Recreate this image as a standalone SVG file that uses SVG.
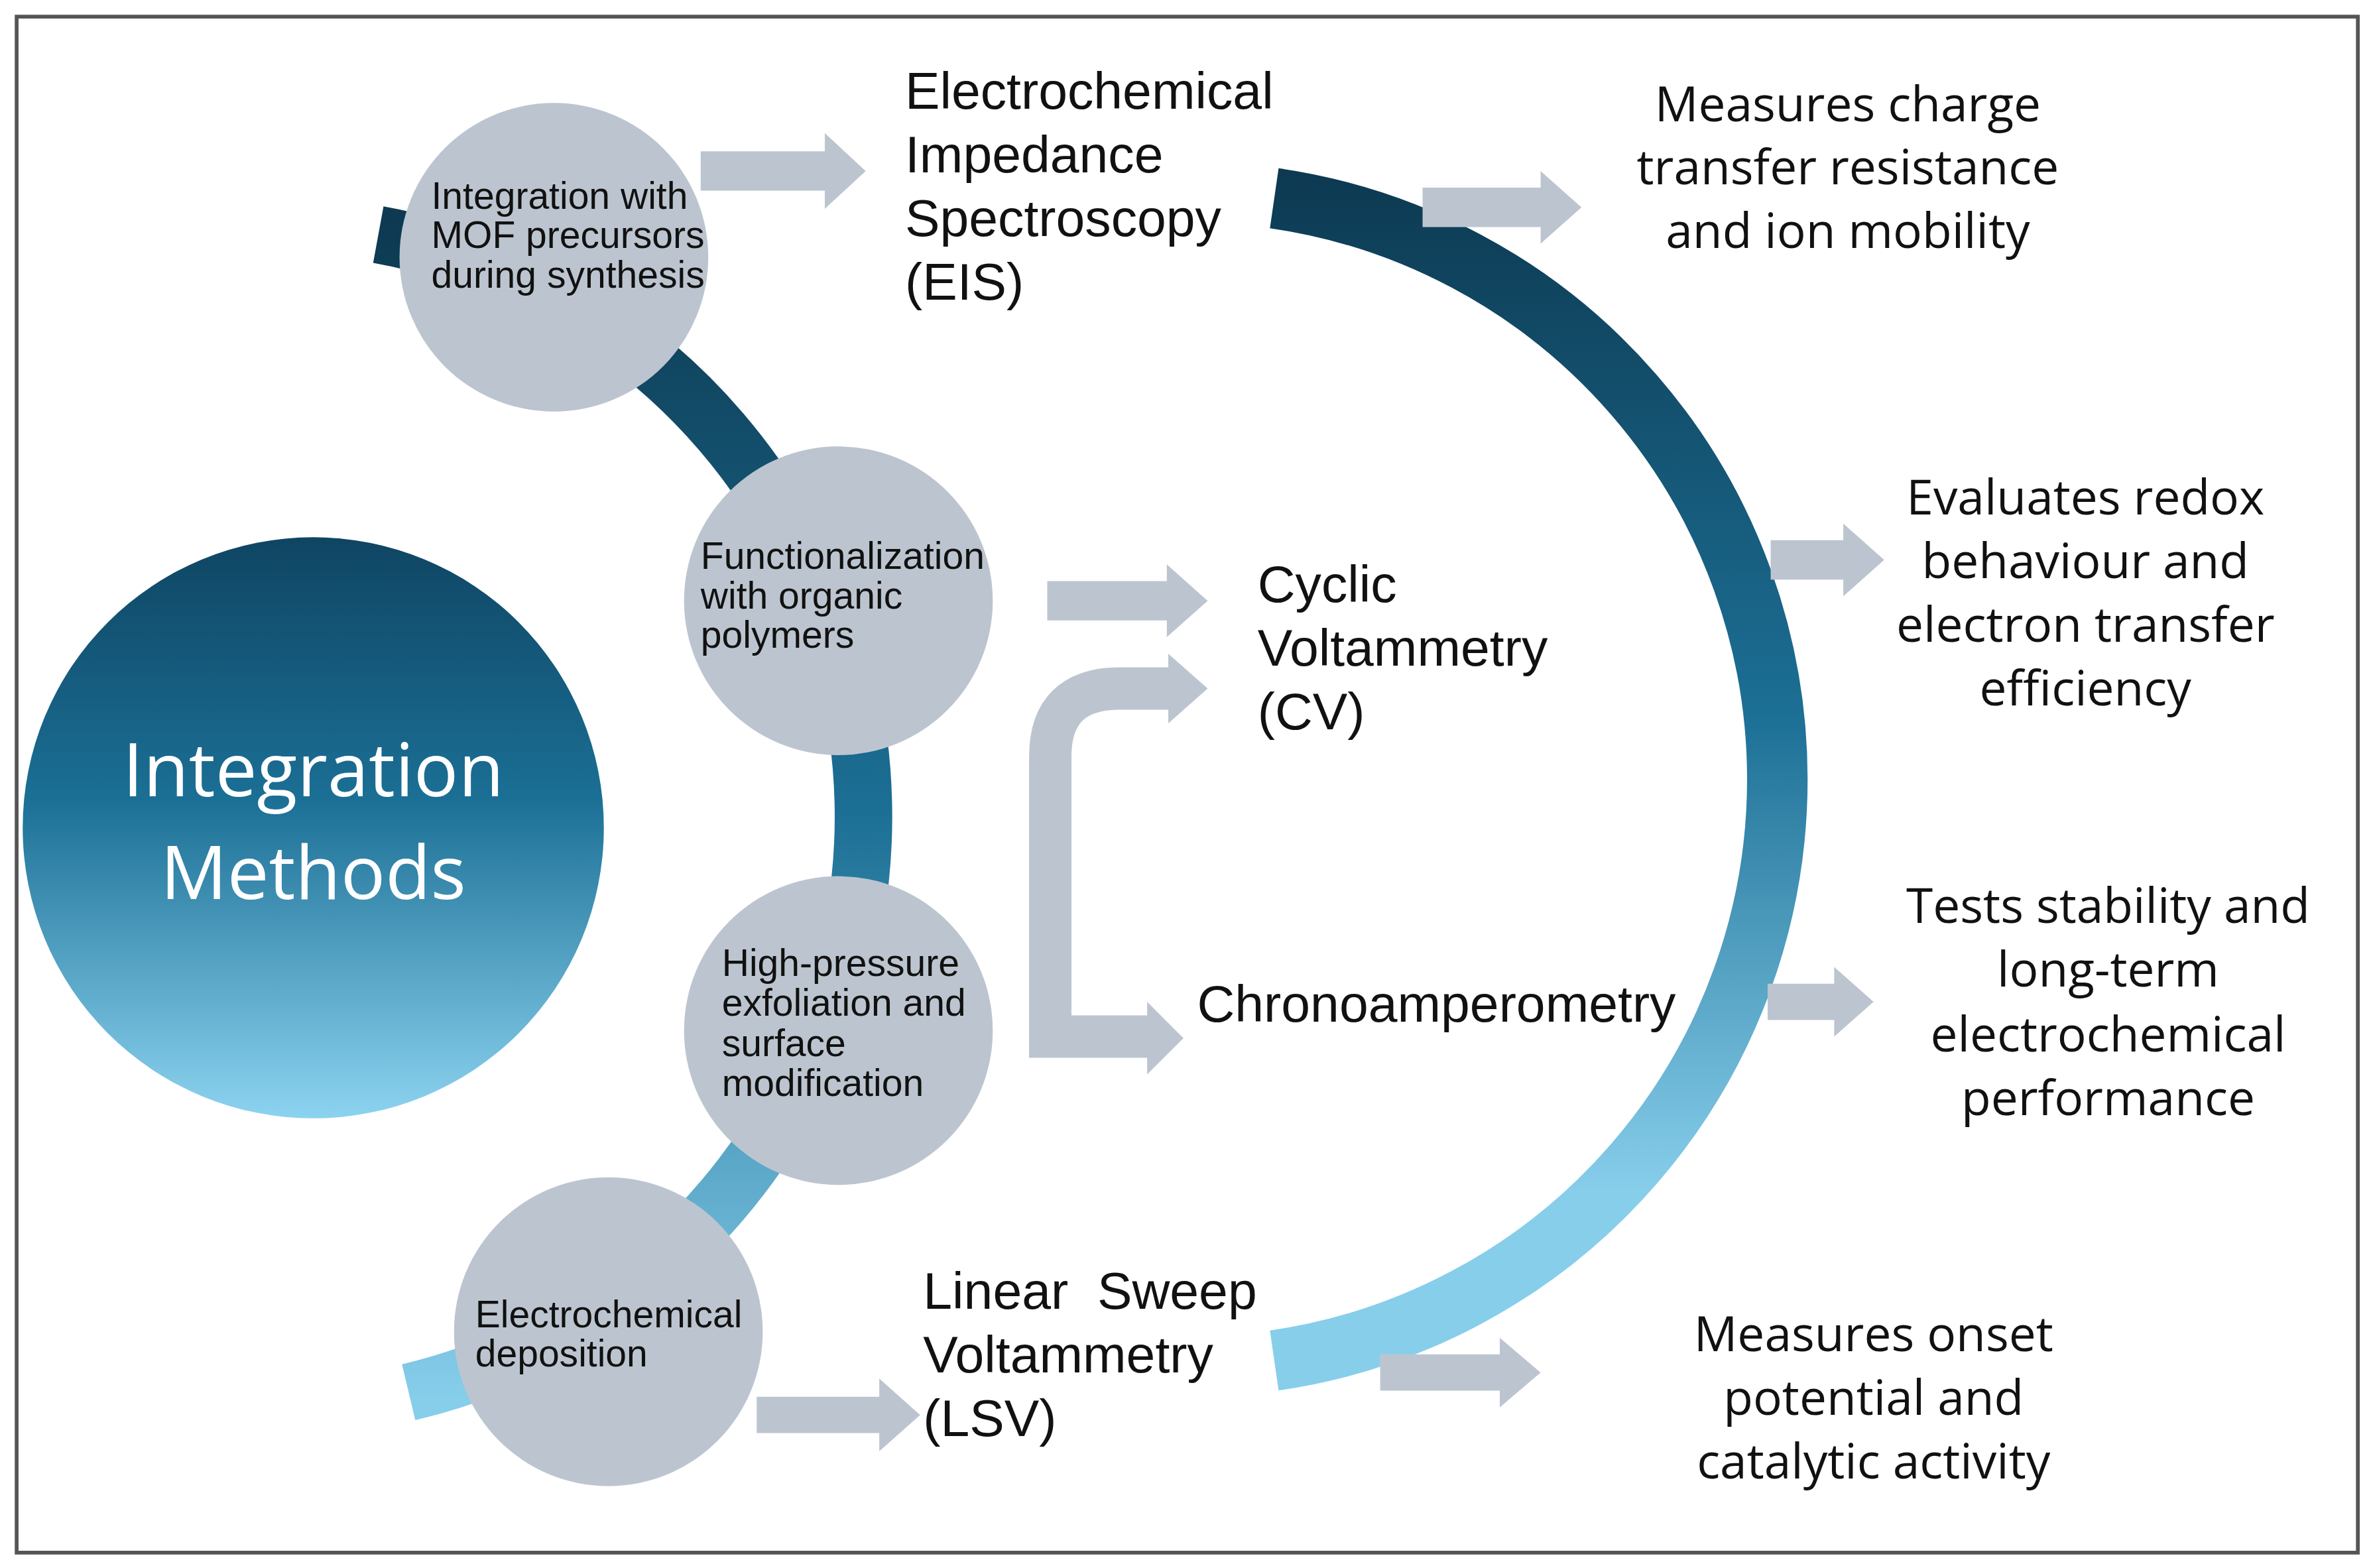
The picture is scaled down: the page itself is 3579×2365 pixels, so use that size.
<svg xmlns="http://www.w3.org/2000/svg" width="3579" height="2365" viewBox="0 0 3579 2365">
<style>
.node{fill:#bcc5cf}
.arr{fill:#bcc5cf}
.ct{font-family:"Liberation Sans",Arial,sans-serif;font-size:25px;fill:#111}
.mt{font-family:"Liberation Sans",Arial,sans-serif;font-size:34.5px;fill:#111}
.rt{font-family:"Open Sans","Liberation Sans",sans-serif;font-size:32px;fill:#111;text-anchor:middle}
</style>
<defs>
<linearGradient id="gl" gradientUnits="userSpaceOnUse" x1="0" y1="150" x2="0" y2="925">
<stop offset="0" stop-color="#0d3a52"/><stop offset="0.5" stop-color="#1c6f95"/><stop offset="1" stop-color="#87ceeb"/></linearGradient>
<linearGradient id="gr" gradientUnits="userSpaceOnUse" x1="0" y1="118" x2="0" y2="906">
<stop offset="0" stop-color="#0d3a52"/><stop offset="0.45" stop-color="#1c6f95"/><stop offset="0.85" stop-color="#87ceeb"/><stop offset="1" stop-color="#87ceeb"/></linearGradient>
<linearGradient id="gc" x1="0" y1="0" x2="0" y2="1">
<stop offset="0" stop-color="#0f4563"/><stop offset="0.45" stop-color="#1b6f95"/><stop offset="1" stop-color="#8cd3f0"/></linearGradient>
</defs>
<rect width="3579" height="2365" fill="#fff"/>
<g transform="scale(2.2825)">
<rect x="11" y="11" width="1547" height="1015" fill="none" stroke="#555" stroke-width="2.5"/>
<g id="connectors">
<path d="M 250 155 A 391 391 0 0 1 270 920" fill="none" stroke="url(#gl)" stroke-width="38"/>
<path d="M 842 131 A 388 388 0 0 1 842 899" fill="none" stroke="url(#gr)" stroke-width="40"/>
<polygon class="arr" points="463,100 545,100 545,88 572,113 545,138 545,126 463,126"/>
<polygon class="arr" points="940,124 1018,124 1018,113 1045,137 1018,161 1018,150 940,150"/>
<polygon class="arr" points="1170,357 1218,357 1218,346 1245,370 1218,394 1218,383 1170,383"/>
<polygon class="arr" points="692,384 771,384 771,373 798,397 771,421 771,410 692,410"/>
<path d="M 775 455 L 740 455 Q 694 455 694 500 L 694 685 L 760 685" fill="none" stroke="#bcc5cf" stroke-width="28"/>
<polygon class="arr" points="772,432 798,455 772,478"/>
<polygon class="arr" points="758,662 782,686 758,710"/>
<polygon class="arr" points="1168,650 1212,650 1212,639 1238,662 1212,685 1212,674 1168,674"/>
<polygon class="arr" points="912,895 991,895 991,884 1018,907 991,930 991,919 912,919"/>
<polygon class="arr" points="500,923 581,923 581,911 608,935 581,959 581,947 500,947"/>
</g>
<g id="main">
<circle cx="207" cy="547" r="192" fill="url(#gc)"/>
<text x="207" y="526" font-family="'Open Sans','Liberation Sans',sans-serif" font-size="49" fill="#fff" text-anchor="middle">Integration</text>
<text x="207" y="594" font-family="'Open Sans','Liberation Sans',sans-serif" font-size="49" fill="#fff" text-anchor="middle">Methods</text>
</g>
<g id="n1"><circle class="node" cx="366" cy="170" r="102"/>
<text class="ct" x="285" y="138">Integration with</text><text class="ct" x="285" y="164">MOF precursors</text><text class="ct" x="285" y="190">during synthesis</text></g>
<g id="n2"><circle class="node" cx="554" cy="397" r="102"/>
<text class="ct" x="463" y="376">Functionalization</text><text class="ct" x="463" y="402">with organic</text><text class="ct" x="463" y="428">polymers</text></g>
<g id="n3"><circle class="node" cx="554" cy="681" r="102"/>
<text class="ct" x="477" y="645">High-pressure</text><text class="ct" x="477" y="671">exfoliation and</text><text class="ct" x="477" y="698">surface</text><text class="ct" x="477" y="724">modification</text></g>
<g id="n4"><circle class="node" cx="402" cy="880" r="102"/>
<text class="ct" x="314" y="877">Electrochemical</text><text class="ct" x="314" y="903">deposition</text></g>
<g id="eis"><text class="mt" x="598" y="72">Electrochemical</text><text class="mt" x="598" y="114">Impedance</text><text class="mt" x="598" y="156">Spectroscopy</text><text class="mt" x="598" y="198">(EIS)</text></g>
<g id="cv"><text class="mt" x="831" y="398">Cyclic</text><text class="mt" x="831" y="440">Voltammetry</text><text class="mt" x="831" y="482">(CV)</text></g>
<g id="ca"><text class="mt" x="791" y="675">Chronoamperometry</text></g>
<g id="lsv"><text class="mt" x="610" y="865" xml:space="preserve">Linear  Sweep</text><text class="mt" x="610" y="907">Voltammetry</text><text class="mt" x="610" y="949">(LSV)</text></g>
<g id="r1"><text class="rt" x="1221" y="80">Measures charge</text><text class="rt" x="1221" y="122">transfer resistance</text><text class="rt" x="1221" y="164">and ion mobility</text></g>
<g id="r2"><text class="rt" x="1378" y="340">Evaluates redox</text><text class="rt" x="1378" y="382">behaviour and</text><text class="rt" x="1378" y="424">electron transfer</text><text class="rt" x="1378" y="466">efficiency</text></g>
<g id="r3"><text class="rt" x="1393" y="610">Tests stability and</text><text class="rt" x="1393" y="652">long-term</text><text class="rt" x="1393" y="695">electrochemical</text><text class="rt" x="1393" y="737">performance</text></g>
<g id="r4"><text class="rt" x="1238" y="893">Measures onset</text><text class="rt" x="1238" y="935">potential and</text><text class="rt" x="1238" y="977">catalytic activity</text></g>
</g>
</svg>
